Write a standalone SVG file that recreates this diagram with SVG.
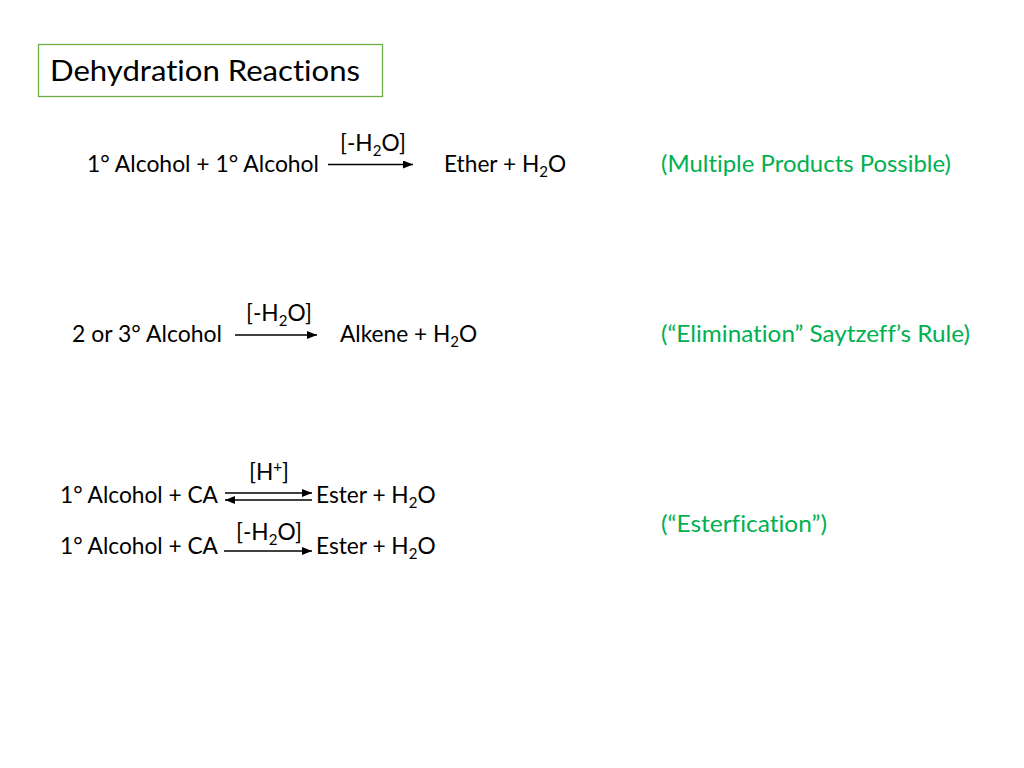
<svg xmlns="http://www.w3.org/2000/svg" width="1024" height="768" viewBox="0 0 1024 768">
<style>
text{font-family:Lato,"Open Sans","Liberation Sans",sans-serif;font-size:22.7px;fill:#000;font-variant-ligatures:none;font-feature-settings:"liga" 0,"dlig" 0}
.g{fill:#00b050}
.t{font-size:28.4px}
.s{font-size:15px}
line{stroke:#000;stroke-width:1.3}
</style>
<defs>
<marker id="ah" viewBox="0 0 10 8" refX="10" refY="4" markerWidth="10" markerHeight="8" markerUnits="userSpaceOnUse" orient="auto">
<path d="M0,0 L10,4 L0,8 Z" fill="#000"/>
</marker>
</defs>
<rect width="1024" height="768" fill="#fff"/>
<g id="title">
<rect x="38.5" y="44.5" width="344" height="52" fill="none" stroke="#70ad47" stroke-width="1.3"/>
<text class="t" x="50" y="81" textLength="310" lengthAdjust="spacingAndGlyphs">Dehydration Reactions</text>
</g>
<g id="reaction1">
<text x="87" y="172" textLength="232" lengthAdjust="spacingAndGlyphs">1° Alcohol + 1° Alcohol</text>
<text x="340" y="151">[-H<tspan class="s" dy="5">2</tspan><tspan dy="-5">O]</tspan></text>
<text x="444" y="172">Ether + H<tspan class="s" dy="5">2</tspan><tspan dy="-5">O</tspan></text>
<text class="g" x="661" y="172" textLength="290" lengthAdjust="spacingAndGlyphs">(Multiple Products Possible)</text>
</g>
<g id="reaction2">
<text x="72" y="342" textLength="150" lengthAdjust="spacingAndGlyphs">2 or 3° Alcohol</text>
<text x="246" y="321">[-H<tspan class="s" dy="5">2</tspan><tspan dy="-5">O]</tspan></text>
<text x="340" y="342">Alkene + H<tspan class="s" dy="5">2</tspan><tspan dy="-5">O</tspan></text>
<text class="g" x="661" y="342" textLength="309" lengthAdjust="spacingAndGlyphs">(“Elimination” Saytzeff’s Rule)</text>
</g>
<g id="reaction3">
<text x="60" y="503" textLength="158" lengthAdjust="spacingAndGlyphs">1° Alcohol + CA</text>
<text x="249" y="480">[H<tspan class="s" dy="-8">+</tspan><tspan dy="8">]</tspan></text>
<text x="316" y="503">Ester + H<tspan class="s" dy="5">2</tspan><tspan dy="-5">O</tspan></text>
</g>
<g id="reaction4">
<text x="60" y="554" textLength="158" lengthAdjust="spacingAndGlyphs">1° Alcohol + CA</text>
<text x="236" y="540">[-H<tspan class="s" dy="5">2</tspan><tspan dy="-5">O]</tspan></text>
<text x="316" y="554">Ester + H<tspan class="s" dy="5">2</tspan><tspan dy="-5">O</tspan></text>
</g>
<g id="note3">
<text class="g" x="661" y="532" textLength="166" lengthAdjust="spacingAndGlyphs">(“Esterfication”)</text>
</g>
<g id="connectors">
<line x1="328" y1="164.5" x2="413" y2="164.5" marker-end="url(#ah)"/>
<line x1="235" y1="335" x2="317" y2="335" marker-end="url(#ah)"/>
<line x1="225" y1="493" x2="312" y2="493" marker-end="url(#ah)"/>
<line x1="312" y1="500" x2="225" y2="500" marker-end="url(#ah)"/>
<line x1="224" y1="551" x2="312" y2="551" marker-end="url(#ah)"/>
</g>
</svg>
